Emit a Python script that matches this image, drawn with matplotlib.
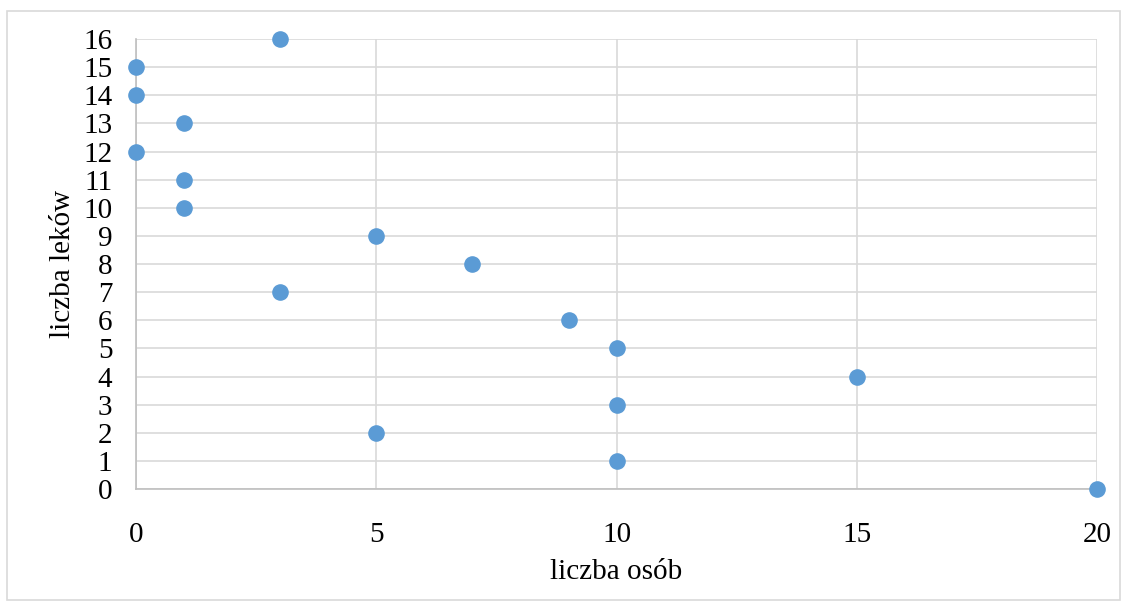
import numpy as np
import matplotlib.pyplot as plt
from matplotlib.patches import Rectangle

# dane
osoby = [3, 0, 0, 1, 0, 1, 1, 5, 7, 3, 9, 10, 15, 10, 5, 10, 20]
leki = [16, 15, 14, 13, 12, 11, 10, 9, 8, 7, 6, 5, 4, 3, 2, 1, 0]
x_ticks = [0, 5, 10, 15, 20]
y_ticks = list(range(0, 17))

plt.rcParams['font.family'] = ['Liberation Serif', 'DejaVu Serif']

fig = plt.figure(figsize=(11.28, 6.08), dpi=100)
ax = fig.add_axes([0.1206, 0.1957, 0.852, 0.7401])

# ramka wokol wykresu
fig.patches.append(Rectangle((7 / 1128, 8 / 608), 1113 / 1128, 589 / 608,
                             transform=fig.transFigure, fill=False,
                             edgecolor='#d9d9d9', lw=1.2))

ax.scatter(osoby, leki, s=120, color='#5b9bd5', zorder=3, clip_on=False)

ax.set_xlim(0, 20)
ax.set_ylim(0, 16)
ax.set_xticks(x_ticks)
ax.set_yticks(y_ticks)
ax.grid(True, color='#d9d9d9', lw=1.2)
ax.set_axisbelow(True)
for s in ['top', 'right']:
    ax.spines[s].set_visible(False)
for s in ['left', 'bottom']:
    ax.spines[s].set_color('#bfbfbf')
    ax.spines[s].set_linewidth(1.2)
ax.tick_params(length=0, labelsize=21, colors='black')
ax.tick_params(axis='x', pad=24)
ax.tick_params(axis='y', pad=17)

ax.set_xlabel('liczba osób', fontsize=21, labelpad=8)
ax.set_ylabel('liczba leków', fontsize=21, labelpad=5)

fig.savefig('out.png', dpi=100)
